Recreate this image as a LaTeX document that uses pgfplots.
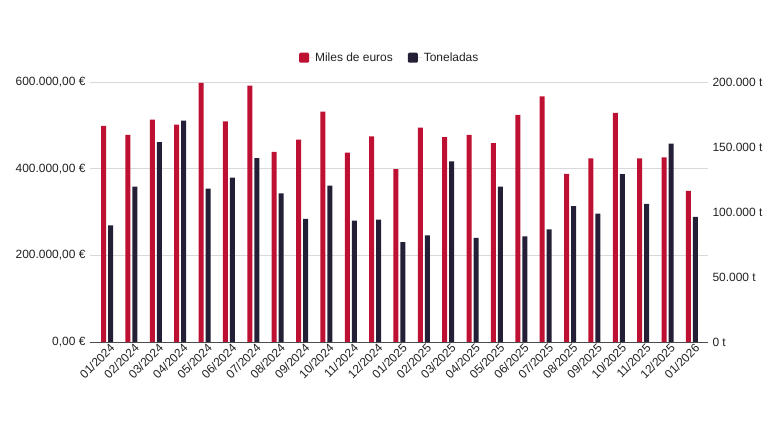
\documentclass[border=0pt]{standalone}
\usepackage{pgfplots}
\pgfplotsset{compat=1.18}
\usepackage{pgfplotstable}
\usepackage{fontspec}
\setmainfont{Liberation Sans}

\definecolor{rojo}{RGB}{190,16,50}
\definecolor{oscuro}{RGB}{36,31,54}
\definecolor{rejilla}{RGB}{217,217,217}
\definecolor{texto}{RGB}{34,34,34}

% miles de euros / toneladas por mes
\pgfplotstableread{
x euros toneladas
0  499000 89700
1  477700 119500
2  513000 153800
3  501500 170200
4  598000 117900
5  509000 126400
6  591500 141500
7  438500 114300
8  467000 94800
9  531500 120200
10 437000 93300
11 474500 94100
12 399000 76900
13 495000 82000
14 473000 138900
15 477700 80000
16 459000 119500
17 524000 81200
18 567000 86600
19 387700 104600
20 423700 98700
21 529000 129200
22 423700 106200
23 426000 152500
24 349000 96200
}\datos

\pgfplotsset{
  base/.style={
    scale only axis, width=618bp, height=260bp,
    at={(0,0)}, anchor=south west,
    xmin=-0.7, xmax=24.66,
    ymin=0,
    scaled y ticks=false,
    major tick length=0pt,
    tick label style={font=\fontsize{12}{14}\selectfont, text=texto},
    ybar, bar width=5bp,
  },
}

\begin{document}
\begin{tikzpicture}
\path[use as bounding box] (-90bp,-91bp) rectangle (690bp,342bp);

\begin{axis}[base,
  ymax=600000,
  axis x line*=bottom,
  axis y line*=left,
  y axis line style={draw=none},
  x axis line style={draw=black!70, line width=0.8bp},
  ymajorgrids, major grid style={draw=rejilla, line width=0.8bp},
  ytick={0,200000,400000,600000},
  yticklabels={{0,00 €},{200.000,00 €},{400.000,00 €},{600.000,00 €}},
  yticklabel style={xshift=-1bp},
  xtick={0,...,24},
  xticklabels={01/2024,02/2024,03/2024,04/2024,05/2024,06/2024,07/2024,08/2024,09/2024,10/2024,11/2024,12/2024,01/2025,02/2025,03/2025,04/2025,05/2025,06/2025,07/2025,08/2025,09/2025,10/2025,11/2025,12/2025,01/2026},
  xticklabel style={rotate=45, anchor=east, xshift=4.5bp, yshift=-6.5bp},
  legend style={at={(0.485,1)}, anchor=south, yshift=15bp, draw=none, fill=none,
    legend columns=-1, font=\fontsize{12}{14}\selectfont, text=texto,
    /tikz/every even column/.append style={column sep=13bp}},
  legend image code/.code={\fill[#1, rounded corners=1.2bp] (0bp,-5bp) rectangle (10bp,5bp); \path (0bp,0bp) -- (14bp,0bp);},
]
\addplot[fill=rojo, draw=none, bar shift=-3.5bp] table[x=x, y=euros] {\datos};
\addlegendentry{Miles de euros}
\addlegendimage{fill=oscuro, draw=none}
\addlegendentry{Toneladas}
\end{axis}

\begin{axis}[base,
  ymax=200000,
  axis x line=none,
  axis y line*=right,
  y axis line style={draw=none},
  ytick={0,50000,100000,150000,200000},
  yticklabels={{0 t},{50.000 t},{100.000 t},{150.000 t},{200.000 t}},
  yticklabel style={xshift=1bp},
  xtick=\empty,
]
\addplot[fill=oscuro, draw=none, bar shift=3.5bp] table[x=x, y=toneladas] {\datos};
\end{axis}
\end{tikzpicture}
\end{document}
